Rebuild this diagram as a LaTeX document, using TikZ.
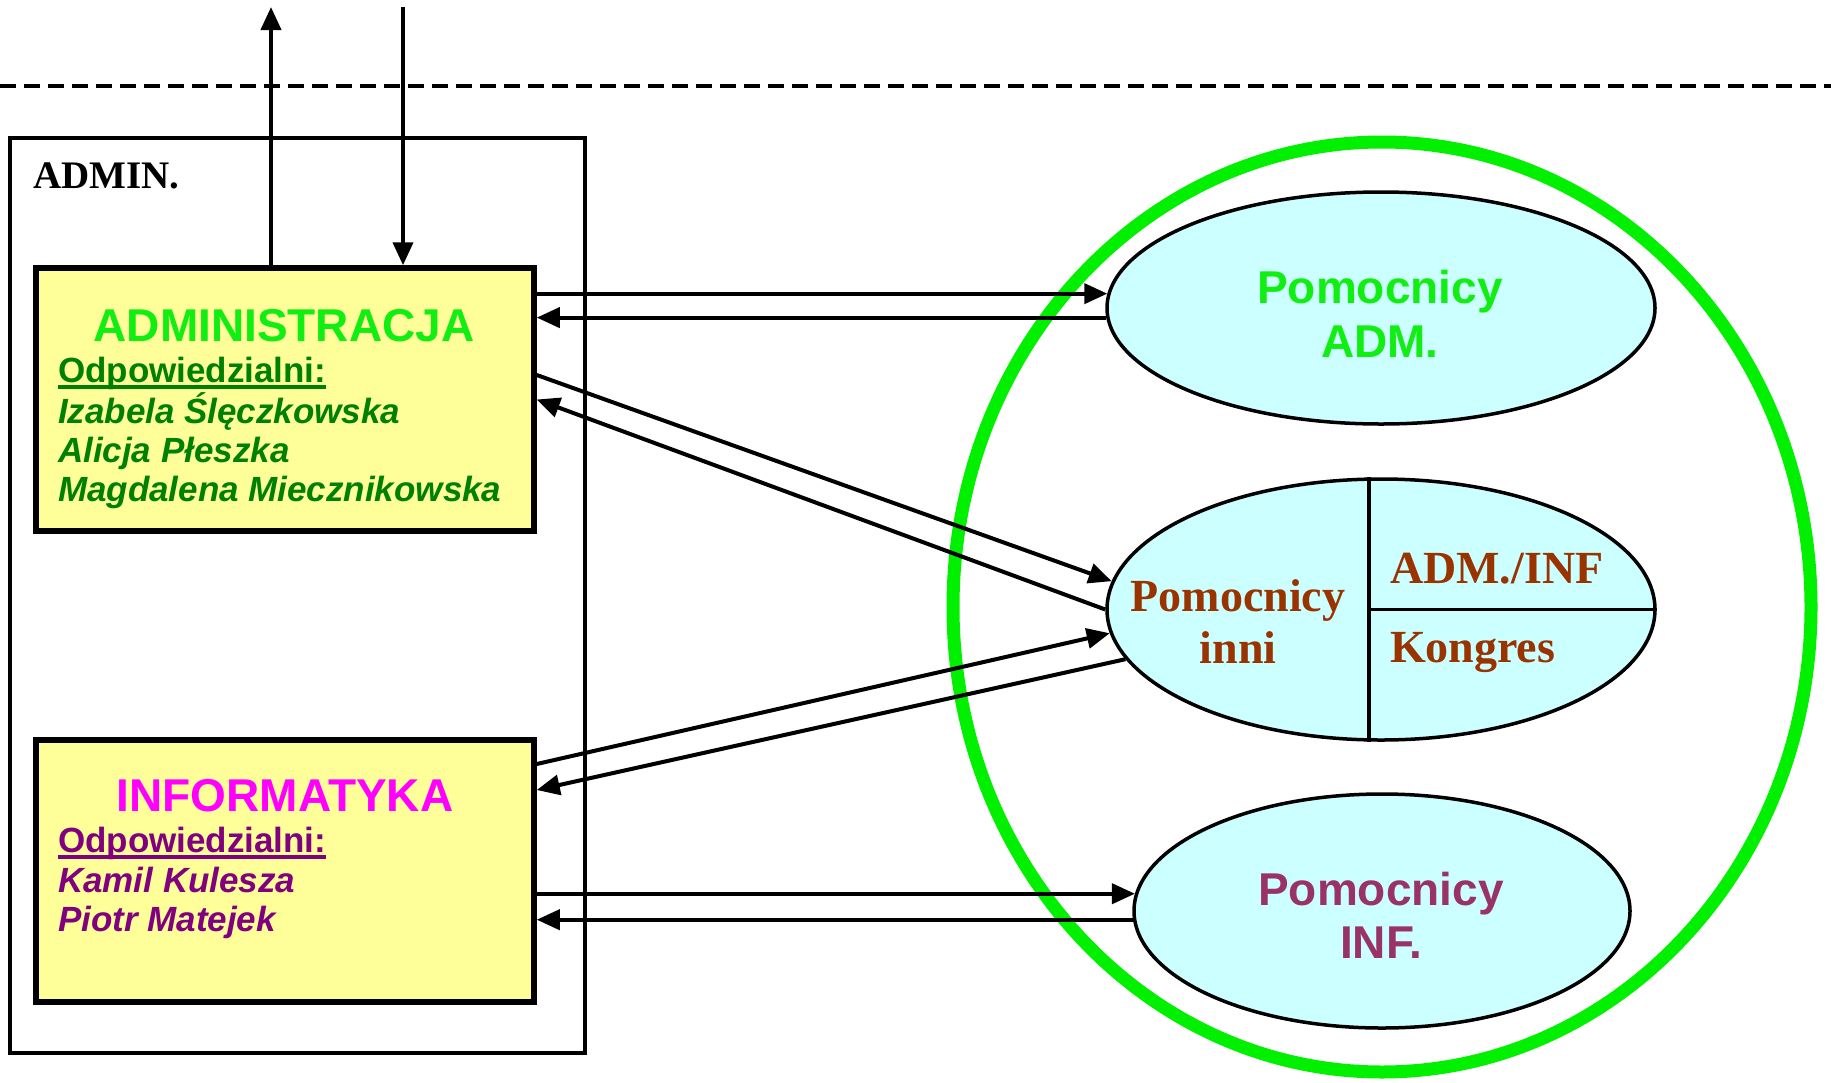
\documentclass[tikz,border=0pt]{standalone}
\usepackage{fontspec}
\setmainfont{Liberation Serif}
\newfontfamily\arialf{Liberation Sans}
\newfontfamily\timesf{Liberation Serif}
\usetikzlibrary{arrows.meta,shapes.geometric,calc}

\definecolor{boxyellow}{HTML}{FFFF99}
\definecolor{ellcyan}{HTML}{CCFFFF}
\definecolor{brightgreen}{HTML}{11EE11}
\definecolor{ringgreen}{HTML}{00F000}
\definecolor{darkgreen}{HTML}{008000}
\definecolor{magentatxt}{HTML}{FF00FF}
\definecolor{purpletxt}{HTML}{800080}
\definecolor{plumtxt}{HTML}{993366}
\definecolor{browntxt}{HTML}{993300}

\begin{document}
\begin{tikzpicture}[x=1pt,y=-1pt,
  deptbox/.style={draw=black, line width=5.5pt, fill=boxyellow, rectangle, inner sep=0pt, minimum width=498pt, minimum height=263pt},
  outerbox/.style={draw=black, line width=4.5pt, rectangle, inner sep=0pt, minimum width=575pt, minimum height=915pt},
  helper/.style={draw=black, line width=3.5pt, fill=ellcyan, ellipse, inner sep=0pt},
  ring/.style={draw=ringgreen, line width=13pt, ellipse, inner sep=0pt, minimum width=858pt, minimum height=930pt},
  conn/.style={line width=4pt, -{Triangle[length=23pt,width=20pt]}},
  divider/.style={line width=3.5pt},
  txt/.style={inner sep=0pt, outer sep=0pt},
  titlef/.style={font={\arialf\bfseries\fontsize{46}{50}\selectfont}},
  odpf/.style={font={\arialf\bfseries\fontsize{35}{40}\selectfont}},
  namef/.style={font={\arialf\bfseries\itshape\fontsize{35}{40}\selectfont}},
  timesbig/.style={font={\timesf\bfseries\fontsize{46}{50}\selectfont}, text=browntxt},
]
\useasboundingbox (0,0) rectangle (1831,1082);

% dashed boundary
\coordinate (dashL) at (0,86);
\coordinate (dashR) at (1831,86);
\draw[line width=4.2pt, dash pattern=on 16pt off 8pt] (dashL) -- (dashR);

% ADMIN frame
\node[outerbox] (adminbox) at (297.5,595.5) {};
\node[txt, anchor=base west, font={\timesf\bfseries\fontsize{39}{44}\selectfont}] (adminL) at (33,188) {ADMIN.};

% green ring
\node[ring] (ring) at (1382,607) {};

% department boxes
\node[deptbox] (adm) at (285,399.5) {};
\node[deptbox, minimum height=262pt] (inf) at (285,871) {};

% helper ellipses
\node[helper, minimum width=548pt, minimum height=232pt] (padm) at (1381,308) {};
\node[helper, minimum width=548pt, minimum height=261pt] (pmid) at (1381,609.5) {};
\node[helper, minimum width=496pt, minimum height=234pt] (pinf) at (1382,911) {};

% dividers in the middle ellipse
\coordinate (divx) at (1369,609.5);
\draw[divider] (pmid.north -| divx) -- (pmid.south -| divx);
\draw[divider] (divx) -- (pmid.east);

% ADMINISTRACJA texts
\node[txt, titlef, text=brightgreen, anchor=base] (admT) at (284,341) {ADMINISTRACJA};
\node[txt, odpf, text=darkgreen, anchor=base west] (admO) at (58,382) {Odpowiedzialni:};
\draw[darkgreen, line width=3.5pt] ([yshift=-5pt]admO.base west) -- ([yshift=-5pt]admO.base east);
\node[txt, namef, text=darkgreen, anchor=base west] (admN1) at (58,423) {Izabela Ślęczkowska};
\node[txt, namef, text=darkgreen, anchor=base west] (admN2) at (58,462) {Alicja Płeszka};
\node[txt, namef, text=darkgreen, anchor=base west] (admN3) at (58,501) {Magdalena Miecznikowska};

% INFORMATYKA texts
\node[txt, titlef, text=magentatxt, anchor=base] (infT) at (285,811) {INFORMATYKA};
\node[txt, odpf, text=purpletxt, anchor=base west] (infO) at (58,852) {Odpowiedzialni:};
\draw[purpletxt, line width=3.5pt] ([yshift=-5pt]infO.base west) -- ([yshift=-5pt]infO.base east);
\node[txt, namef, text=purpletxt, anchor=base west] (infN1) at (58,892) {Kamil Kulesza};
\node[txt, namef, text=purpletxt, anchor=base west] (infN2) at (58,931) {Piotr Matejek};

% ellipse texts
\node[txt, titlef, text=brightgreen, anchor=base] (padmT1) at (1380,303) {Pomocnicy};
\node[txt, titlef, text=brightgreen, anchor=base] (padmT2) at (1380,357) {ADM.};
\node[txt, titlef, text=plumtxt, anchor=base] (pinfT1) at (1381,905) {Pomocnicy};
\node[txt, titlef, text=plumtxt, anchor=base] (pinfT2) at (1381,958) {INF.};
\node[txt, timesbig, anchor=base] (pmidT1) at (1238,611) {Pomocnicy};
\node[txt, timesbig, anchor=base] (pmidT2) at (1238,663) {inni};
\node[txt, timesbig, anchor=base west] (pmidT3) at (1390,583) {ADM./INF};
\node[txt, timesbig, anchor=base west] (pmidT4) at (1390,662) {Kongres};

% vertical arrows at the top
\coordinate (uptop) at (271,7);
\coordinate (dntop) at (403,7);
\draw[conn] (adm.north -| uptop) -- (uptop);
\draw[conn] (dntop) -- (adm.north -| dntop);

% ADMINISTRACJA <-> Pomocnicy ADM.
\draw[conn] (adm.east |- padm.177.2) -- (padm.177.2);
\draw[conn] (padm.182.8) -- (adm.east |- padm.182.8);

% ADMINISTRACJA <-> Pomocnicy inni
\draw[conn] ([yshift=24.5pt]adm.east) -- (pmid.174.1);
\draw[conn] (pmid.west) -- (adm.east);

% INFORMATYKA <-> Pomocnicy inni
\draw[conn] ([yshift=107pt]inf.east) -- (pmid.185.4);
\draw[conn] (pmid.191.8) -- ([yshift=81pt]inf.east);

% INFORMATYKA <-> Pomocnicy INF.
\draw[conn] (inf.east |- pinf.176.5) -- (pinf.176.5);
\draw[conn] (pinf.182.6) -- (inf.east |- pinf.182.6);
\end{tikzpicture}
\end{document}
